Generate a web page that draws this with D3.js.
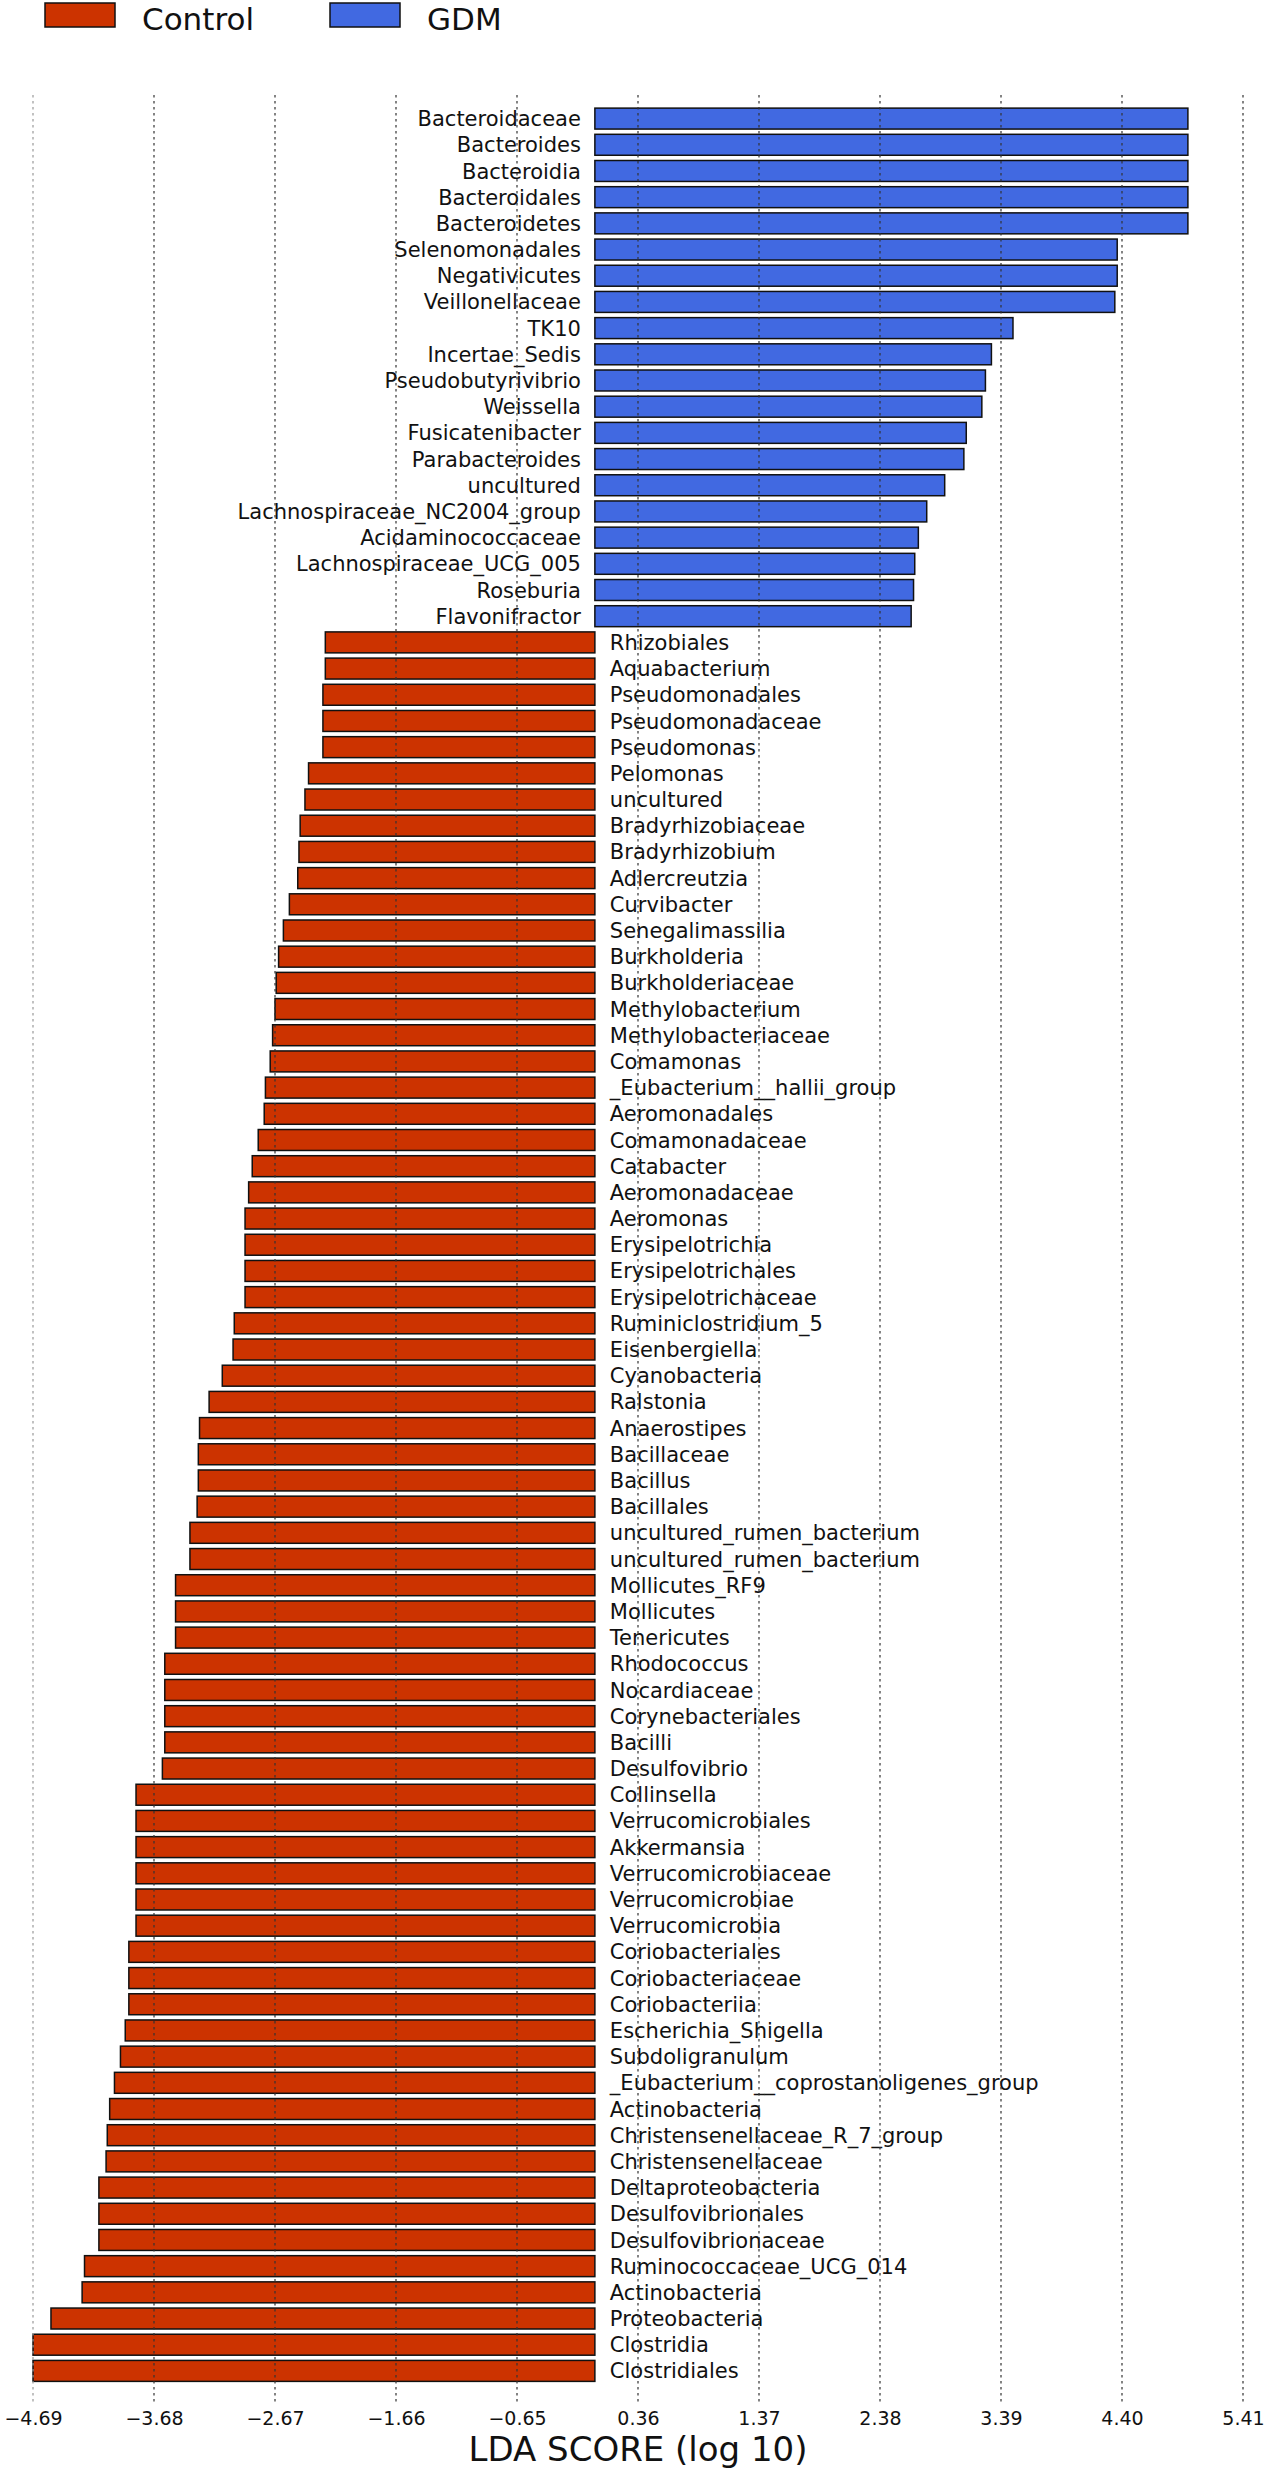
<!DOCTYPE html>
<html>
<head>
<meta charset="utf-8">
<script src="https://cdn.jsdelivr.net/npm/d3@7"></script>
<style>
  body { margin: 0; background: #fff; }
  svg text { font-family: "DejaVu Sans", sans-serif; fill: #111; }
</style>
</head>
<body>
<svg width="1278" height="2480"></svg>
<script>
// LEfSe LDA scores
var gdmNames = ["Bacteroidaceae", "Bacteroides", "Bacteroidia", "Bacteroidales", "Bacteroidetes",
    "Selenomonadales", "Negativicutes", "Veillonellaceae", "TK10", "Incertae_Sedis",
    "Pseudobutyrivibrio", "Weissella", "Fusicatenibacter", "Parabacteroides", "uncultured",
    "Lachnospiraceae_NC2004_group", "Acidaminococcaceae", "Lachnospiraceae_UCG_005", "Roseburia", "Flavonifractor"];
var gdmScores = [4.95, 4.95, 4.95, 4.95, 4.95,
    4.36, 4.36, 4.34, 3.49, 3.31,
    3.26, 3.23, 3.10, 3.08, 2.92,
    2.77, 2.70, 2.67, 2.66, 2.64];

var controlNames = ["Rhizobiales", "Aquabacterium", "Pseudomonadales", "Pseudomonadaceae", "Pseudomonas",
    "Pelomonas", "uncultured", "Bradyrhizobiaceae", "Bradyrhizobium", "Adlercreutzia",
    "Curvibacter", "Senegalimassilia", "Burkholderia", "Burkholderiaceae", "Methylobacterium",
    "Methylobacteriaceae", "Comamonas", "_Eubacterium__hallii_group", "Aeromonadales", "Comamonadaceae",
    "Catabacter", "Aeromonadaceae", "Aeromonas", "Erysipelotrichia", "Erysipelotrichales",
    "Erysipelotrichaceae", "Ruminiclostridium_5", "Eisenbergiella", "Cyanobacteria", "Ralstonia",
    "Anaerostipes", "Bacillaceae", "Bacillus", "Bacillales", "uncultured_rumen_bacterium",
    "uncultured_rumen_bacterium", "Mollicutes_RF9", "Mollicutes", "Tenericutes", "Rhodococcus",
    "Nocardiaceae", "Corynebacteriales", "Bacilli", "Desulfovibrio", "Collinsella",
    "Verrucomicrobiales", "Akkermansia", "Verrucomicrobiaceae", "Verrucomicrobiae", "Verrucomicrobia",
    "Coriobacteriales", "Coriobacteriaceae", "Coriobacteriia", "Escherichia_Shigella", "Subdoligranulum",
    "_Eubacterium__coprostanoligenes_group", "Actinobacteria", "Christensenellaceae_R_7_group", "Christensenellaceae", "Deltaproteobacteria",
    "Desulfovibrionales", "Desulfovibrionaceae", "Ruminococcaceae_UCG_014", "Actinobacteria", "Proteobacteria",
    "Clostridia", "Clostridiales"];
var controlScores = [-2.25, -2.25, -2.27, -2.27, -2.27,
    -2.39, -2.42, -2.46, -2.47, -2.48,
    -2.55, -2.60, -2.64, -2.66, -2.67,
    -2.69, -2.71, -2.75, -2.76, -2.81,
    -2.86, -2.89, -2.92, -2.92, -2.92,
    -2.92, -3.01, -3.02, -3.11, -3.22,
    -3.30, -3.31, -3.31, -3.32, -3.38,
    -3.38, -3.50, -3.50, -3.50, -3.59,
    -3.59, -3.59, -3.59, -3.61, -3.83,
    -3.83, -3.83, -3.83, -3.83, -3.83,
    -3.89, -3.89, -3.89, -3.92, -3.96,
    -4.01, -4.05, -4.07, -4.08, -4.14,
    -4.14, -4.14, -4.26, -4.28, -4.54,
    -4.69, -4.69];

var tickValues = [-4.69, -3.68, -2.67, -1.66, -0.65, 0.36, 1.37, 2.38, 3.39, 4.40, 5.41];

var groups = ["Control", "GDM"];
var groupColors = ["#cc3300", "#4169e1"];

var rows = [];
gdmNames.forEach(function(n, i) { rows.push({ id: rows.length, name: n, score: gdmScores[i], group: "GDM" }); });
controlNames.forEach(function(n, i) { rows.push({ id: rows.length, name: n, score: controlScores[i], group: "Control" }); });

var svg = d3.select("svg");
var color = d3.scaleOrdinal().domain(groups).range(groupColors);

var x = d3.scaleLinear().domain([-4.69, 5.41]).range([33, 1243]);
var y = d3.scaleBand()
    .domain(rows.map(function(d) { return d.id; }))
    .range([105.5, 2384])
    .paddingInner(0.2)
    .paddingOuter(0.1);

// bars
svg.append("g").selectAll("rect")
    .data(rows)
    .enter().append("rect")
    .attr("x", function(d) { return x(Math.min(0, d.score)); })
    .attr("y", function(d) { return y(d.id); })
    .attr("width", function(d) { return Math.abs(x(d.score) - x(0)); })
    .attr("height", y.bandwidth())
    .attr("fill", function(d) { return color(d.group); })
    .attr("stroke", "#111")
    .attr("stroke-width", 1.5);

// labels on the opposite side of zero
svg.append("g").selectAll("text")
    .data(rows)
    .enter().append("text")
    .attr("x", function(d) { return d.score > 0 ? x(0) - 14 : x(0) + 15; })
    .attr("y", function(d) { return y(d.id) + y.bandwidth() / 2; })
    .attr("dy", "0.36em")
    .attr("text-anchor", function(d) { return d.score > 0 ? "end" : "start"; })
    .style("font-size", "21px")
    .text(function(d) { return d.name; });

// dotted grid on top, running down through the tick area
svg.append("g").selectAll("line")
    .data(tickValues)
    .enter().append("line")
    .attr("x1", function(d) { return x(d); })
    .attr("x2", function(d) { return x(d); })
    .attr("y1", 95)
    .attr("y2", 2403)
    .attr("stroke", function(d, i) { return i === 0 ? "#999" : "#333"; })
    .attr("stroke-width", 1.2)
    .attr("stroke-dasharray", "2.5,3.5");

var xAxis = d3.axisBottom(x)
    .tickValues(tickValues)
    .tickSize(0)
    .tickPadding(0)
    .tickFormat(function(d) { return d3.format(".2f")(d).replace("-", "\u2212"); });

var ax = svg.append("g")
    .attr("transform", "translate(0,2411)")
    .call(xAxis);
ax.select(".domain").remove();
ax.selectAll("text")
    .attr("dy", "0.71em")
    .style("font-family", "DejaVu Sans")
    .style("font-size", "19px")
    .attr("fill", "#111");

svg.append("text")
    .attr("x", (x.range()[0] + x.range()[1]) / 2)
    .attr("y", 2461)
    .attr("text-anchor", "middle")
    .style("font-size", "34px")
    .text("LDA SCORE (log 10)");

// legend
var legend = svg.append("g").selectAll("g")
    .data(groups)
    .enter().append("g")
    .attr("transform", function(d, i) { return "translate(" + (45 + i * 285) + ",3)"; });
legend.append("rect")
    .attr("width", 70)
    .attr("height", 24)
    .attr("fill", function(d) { return color(d); })
    .attr("stroke", "#111")
    .attr("stroke-width", 1.5);
legend.append("text")
    .attr("x", 97)
    .attr("y", 27)
    .style("font-size", "31px")
    .text(function(d) { return d; });
</script>
</body>
</html>
